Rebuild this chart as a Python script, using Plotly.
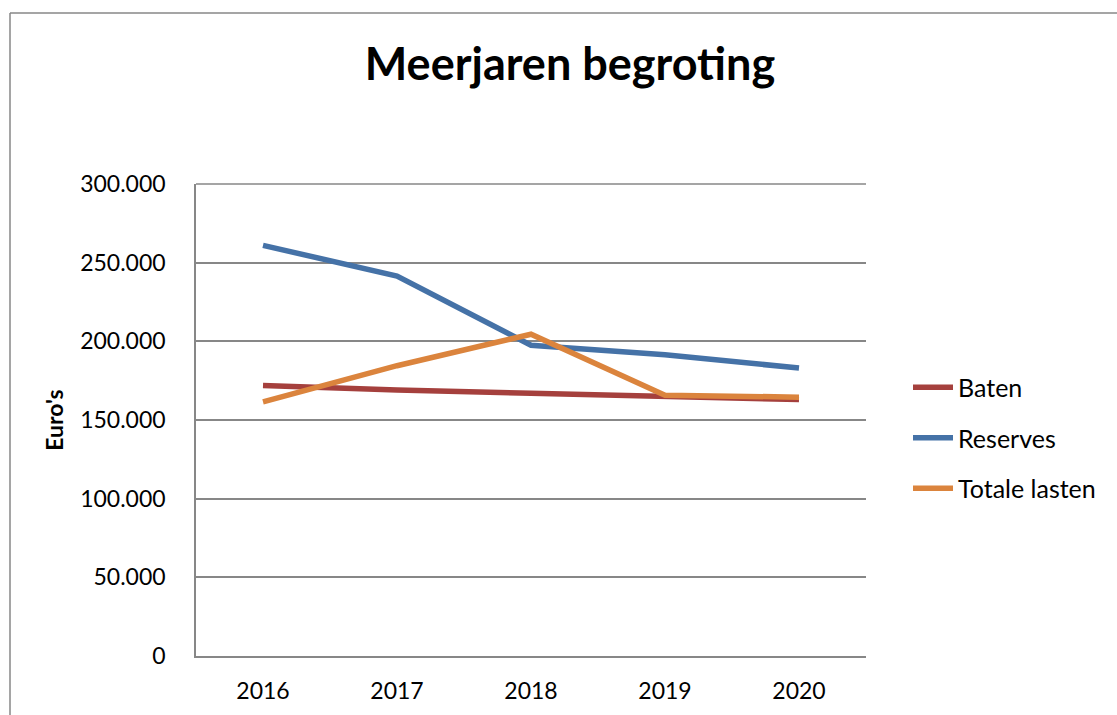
import plotly.graph_objects as go

years = ["2016", "2017", "2018", "2019", "2020"]
baten = [172000, 169000, 167000, 165000, 163000]
reserves = [261000, 241500, 197500, 191500, 183000]
totale_lasten = [161500, 184500, 204500, 165800, 164500]

series = [
    ("Baten", baten, "#A5403D"),
    ("Reserves", reserves, "#4572A7"),
    ("Totale lasten", totale_lasten, "#DB843D"),
]

FONT = "Lato"
GRAY = "#878787"

W, H = 1117, 715
PW, PH = 670, 472
L, T = 196, 184
R, B = W - L - PW, H - T - PH

fig = go.Figure()
for i, (name, vals, col) in enumerate(series):
    fig.add_trace(go.Scatter(
        x=years, y=vals, name=name, mode="lines",
        line=dict(color=col, width=5.5),
        legendgroup=f"g{i}",
    ))

bx = (10 - L) / PW
by = (PH + T - 13) / PH

fig.update_layout(
    width=W, height=H,
    paper_bgcolor="white", plot_bgcolor="white",
    margin=dict(l=L, r=R, t=T, b=B, autoexpand=False),
    separators=",.",
    font=dict(family=FONT, color="black", size=23),
    title=dict(text="<b>Meerjaren begroting</b>", x=570 / W, xref="container",
               xanchor="center", y=1 - 64 / H, yref="container", yanchor="middle",
               font=dict(family=FONT, size=45, color="black")),
    showlegend=True,
    legend=dict(x=(908 - L) / PW, xanchor="left", y=(T + PH - 438) / PH, yanchor="middle",
                font=dict(family=FONT, size=25, color="black"),
                tracegroupgap=15, bgcolor="rgba(0,0,0,0)",
                itemwidth=40),
    xaxis=dict(type="category", range=[-0.5, 4.5], showline=True, linecolor=GRAY,
               linewidth=1.5, showgrid=False, ticks="", ticklabelstandoff=14,
               tickfont=dict(family=FONT, size=23)),
    yaxis=dict(range=[0, 300000], dtick=50000, tickformat=",d", showline=True,
               linecolor=GRAY, linewidth=1.5, showgrid=True, gridcolor=GRAY,
               gridwidth=1.5, zeroline=False, ticks="", ticklabelstandoff=24,
               tickfont=dict(family=FONT, size=23),
               title=dict(text="<b>Euro's</b>", standoff=10,
                          font=dict(family=FONT, size=23))),
    shapes=[
        dict(type="line", xref="paper", yref="paper",
             x0=bx, x1=bx, y0=-0.5, y1=by,
             line=dict(color=GRAY, width=1.5), layer="below"),
        dict(type="line", xref="paper", yref="paper",
             x0=bx, x1=1.6, y0=by, y1=by,
             line=dict(color=GRAY, width=1.5), layer="below"),
        dict(type="line", xref="paper", yref="paper", x0=0, x1=1, y0=1, y1=1,
             line=dict(color=GRAY, width=1.5), layer="below"),
    ],
)

fig.write_html(
    "out.html",
    config={"displayModeBar": False},
    post_script="document.body.style.margin='0';document.body.style.overflow='hidden';",
)
